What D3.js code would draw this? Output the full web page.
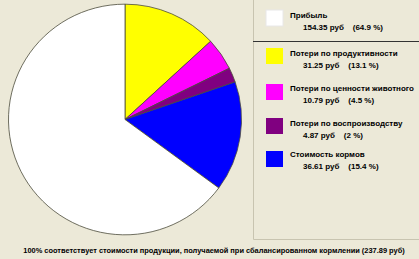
<!DOCTYPE html>
<html><head><meta charset="utf-8">
<script src="https://cdn.jsdelivr.net/npm/d3@7"></script>
<style>
html,body{margin:0;padding:0;background:#ece9d8;}
svg{display:block;}
text{font-family:"Liberation Sans",Arial,sans-serif;font-weight:bold;fill:#000;}
</style></head><body>
<svg id="c" width="419" height="259"></svg>
<script>
const categories = ["Прибыль","Потери по продуктивности","Потери по ценности животного","Потери по воспроизводству","Стоимость кормов"];
const values = [154.35, 31.25, 10.79, 4.87, 36.61];
const percents = ["64.9","13.1","4.5","2","15.4"];
const colors = ["#ffffff","#ffff00","#ff00ff","#800080","#0000ff"];
const pieOrder = [1,2,3,4,0];
const footer = "100% соответствует стоимости продукции, получаемой при сбалансированном кормлении (237.89 руб)";

const svg = d3.select("#c");
const cx = 125, cy = 119.5, r = 116.5;

const pie = d3.pie().sort(null).value(i => values[i]);
const arc = d3.arc().innerRadius(0).outerRadius(r);
const g = svg.append("g").attr("transform", `translate(${cx},${cy}) scale(1,0.99)`);
g.selectAll("path").data(pie(pieOrder)).join("path")
  .attr("d", arc)
  .attr("fill", d => colors[d.data])
  .attr("stroke", "#4a4a3a").attr("stroke-width", 0.8).attr("stroke-linejoin","round");

// legend box
svg.append("path").attr("d","M253.5,-1 V239.5 H420").attr("fill","none").attr("stroke","#c8c4b0").attr("stroke-width",1);
svg.append("line").attr("x1",253).attr("x2",419).attr("y1",41.5).attr("y2",41.5).attr("stroke","#333").attr("stroke-width",1);

const tops = [10, 48, 84, 118, 151];
const lineY = [18, 55.5, 91, 126, 157];
const lg = svg.selectAll("g.lg").data(categories).join("g").attr("class","lg");
lg.append("rect").attr("x",266).attr("y",(d,i)=>tops[i]).attr("width",17).attr("height",16)
  .attr("fill",(d,i)=>colors[i]).attr("stroke",(d,i)=> i===0? "#e8e8e8":"none");
const t1 = lg.append("text").attr("class","t1").attr("x",290).attr("y",(d,i)=>lineY[i]).attr("font-size","8px").text(d=>d);
const t2 = lg.append("text").attr("class","t2").attr("x",303).attr("y",(d,i)=>lineY[i]+12).attr("font-size","8px").attr("xml:space","preserve")
  .text((d,i)=>`${values[i].toFixed(2)} руб    (${percents[i]} %)`);

// fit legend font: "Потери по ценности животного" ≈124px
const ref = t1.filter((d,i)=>i===2).node().getComputedTextLength();
const lfs = 8 * 124 / ref;
t1.attr("font-size", lfs+"px"); t2.attr("font-size", lfs+"px");

const ft = svg.append("text").attr("x",214).attr("y",253).attr("text-anchor","middle").attr("font-size","8px").text(footer);
const fl = ft.node().getComputedTextLength();
ft.attr("font-size", (8*382/fl)+"px");
</script></body></html>
